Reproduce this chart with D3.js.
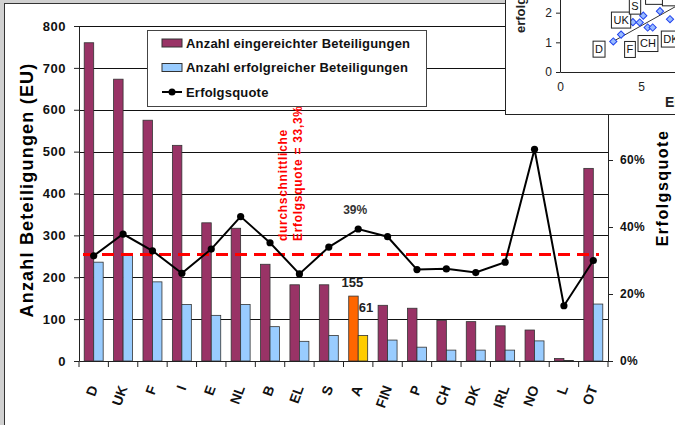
<!DOCTYPE html>
<html>
<head>
<meta charset="utf-8">
<script src="https://cdn.jsdelivr.net/npm/d3@7"></script>
<style>
	body { margin: 0; background: #d0d0d0; }
	svg { display: block; font-family: "Liberation Sans", Arial, sans-serif; }
</style>
</head>
<body>
<script>
const cats = ["D", "UK", "F", "I", "E", "NL", "B", "EL", "S", "A", "FIN", "P", "CH", "DK", "IRL", "NO", "L", "OT"];
const submitted = [760, 673, 575, 515, 330, 317, 231, 182, 182, 155, 133, 126, 97, 94, 84, 74, 6, 460];
const successful = [236, 257, 189, 135, 109, 135, 82, 47, 61, 61, 50, 33, 26, 26, 26, 48, 1, 136];
const rate = [31.4, 37.9, 32.9, 26.2, 33.4, 43.1, 35.3, 26.0, 34.0, 39.4, 37.1, 27.3, 27.5, 26.4, 29.5, 63.2, 16.5, 30.0];
const leftTicks = [0, 100, 200, 300, 400, 500, 600, 700, 800];
// 80% and 100% sit under the inset, only these show
const rightTicks = [0, 20, 40, 60];
const avgLine = 31.8;
const avgText = ["durchschnittliche", "Erfolgsquote = 33,3%"];
const highlight = "A";
const legendItems = ["Anzahl eingereichter Beteiligungen", "Anzahl erfolgreicher Beteiligungen", "Erfolgsquote"];

// small scatter chart pasted over the top right corner
const insetX = [3.29, 3.77, 4.5, 4.92, 5.14, 5.41, 5.72, 6.17, 6.79];
const insetY = [1.03, 1.26, 1.68, 1.67, 1.9, 1.5, 1.5, 2.05, 1.78];
const insetLabels = ["D", "UK", "F", "CH", "S", "DK", "", ""];
const insetLabelX = [2.41, 3.77, 4.32, 5.43, 4.63, 6.85, 5.56, 6.6];
const insetLabelY = [0.77, 1.75, 0.76, 0.96, 2.22, 1.11, 2.55, 2.5];
const insetTicksY = [0, 1, 2];
const insetTicksX = [0, 5];
const regSlope = 0.305, regIntercept = 0.03;

const w = 675;
const h = 425;

const svg = d3.select("body")
	.append("svg")
	.attr("width", w)
	.attr("height", h);

svg.append("rect")
	.attr("x", 4.5).attr("y", 3.5)
	.attr("width", w + 10).attr("height", h + 10)
	.attr("fill", "#fff")
	.attr("stroke", "#333");

const x = d3.scaleBand().domain(cats).range([79, 608]);
const sub = d3.scaleBand().domain(["s", "e"]).range([0, x.bandwidth()]).paddingOuter(0.55);
const y = d3.scaleLinear().domain([0, 800]).range([361, 26]);
const yr = d3.scaleLinear().domain([0, 100]).range([361, 26]);

// gridlines
svg.selectAll("line.grid")
	.data(leftTicks.slice(1))
	.enter()
	.append("line")
	.attr("class", "grid")
	.attr("x1", 79).attr("x2", 608)
	.attr("y1", d => Math.round(y(d)) + 0.5)
	.attr("y2", d => Math.round(y(d)) + 0.5)
	.attr("stroke", "#111");

// bars
const groups = svg.selectAll("g.cat")
	.data(cats)
	.enter()
	.append("g")
	.attr("transform", d => `translate(${x(d)},0)`);

groups.append("rect")
	.attr("x", sub("s"))
	.attr("width", sub.bandwidth())
	.attr("y", (d, i) => y(submitted[i]))
	.attr("height", (d, i) => y(0) - y(submitted[i]))
	.attr("fill", d => d === highlight ? "#ff6600" : "#993366")
	.attr("stroke", "#333").attr("stroke-width", 0.8);

groups.append("rect")
	.attr("x", sub("e"))
	.attr("width", sub.bandwidth())
	.attr("y", (d, i) => y(successful[i]))
	.attr("height", (d, i) => y(0) - y(successful[i]))
	.attr("fill", d => d === highlight ? "#ffcc00" : "#99ccff")
	.attr("stroke", "#333").attr("stroke-width", 0.8);

// axes
const axL = svg.append("g")
	.attr("transform", "translate(79,0)")
	.call(d3.axisLeft(y).tickValues(leftTicks).tickSize(5).tickSizeOuter(0).tickPadding(8));

const axR = svg.append("g")
	.attr("transform", "translate(608,0)")
	.call(d3.axisRight(yr).tickValues(rightTicks).tickFormat(d => d + "%").tickSize(5).tickSizeOuter(0).tickPadding(7));

const axB = svg.append("g")
	.attr("transform", "translate(0,361)")
	.call(d3.axisBottom(x).tickSize(0).tickSizeOuter(0));

svg.selectAll("line.xtick")
	.data(cats.map(c => x(c)).concat([608]))
	.enter()
	.append("line")
	.attr("x1", d => d).attr("x2", d => d)
	.attr("y1", 361).attr("y2", 367)
	.attr("stroke", "#222");

[axL, axR, axB].forEach(a => {
	a.selectAll("path, line").attr("stroke", "#222");
	a.selectAll("text").attr("fill", "#111").attr("font-weight", "bold")
		.attr("font-family", "Liberation Sans, Arial, sans-serif");
});
axL.selectAll("text").attr("font-size", 13).attr("letter-spacing", 0.5);
axR.selectAll("text").attr("font-size", 12).attr("letter-spacing", 0.3);
axB.selectAll("text")
	.attr("font-size", 14)
	.attr("x", 0).attr("y", 0).attr("dy", "0.35em")
	.attr("text-anchor", "end")
	.attr("transform", "translate(0,25) rotate(-70)");

// average line and note
svg.append("line")
	.attr("x1", 83).attr("x2", 599)
	.attr("y1", yr(avgLine)).attr("y2", yr(avgLine))
	.attr("stroke", "#ff0000")
	.attr("stroke-width", 3)
	.attr("stroke-dasharray", "12,7");

svg.selectAll("text.avg")
	.data(avgText)
	.enter()
	.append("text")
	.attr("class", "avg")
	.attr("transform", (d, i) => `translate(${287 + i * 15},241) rotate(-90)`)
	.attr("fill", "#ff0000")
	.attr("font-size", 12)
	.attr("font-weight", "bold")
	.attr("letter-spacing", 0.7)
	.text(d => d);

// success rate line
const cx = (d, i) => x(cats[i]) + x.bandwidth() / 2;
svg.append("path")
	.datum(rate)
	.attr("d", d3.line().x(cx).y(d => yr(d)))
	.attr("fill", "none")
	.attr("stroke", "#000")
	.attr("stroke-width", 2);

svg.selectAll("circle.pt")
	.data(rate)
	.enter()
	.append("circle")
	.attr("cx", cx)
	.attr("cy", d => yr(d))
	.attr("r", 3.6)
	.attr("fill", "#000");

// value labels for A
const ai = cats.indexOf(highlight);
svg.append("text")
	.attr("x", x(highlight) + sub("s") + sub.bandwidth() / 2 - 1)
	.attr("y", y(submitted[ai]) - 9)
	.attr("text-anchor", "middle")
	.attr("font-size", 13).attr("font-weight", "bold").attr("fill", "#222")
	.text(submitted[ai]);
svg.append("text")
	.attr("x", x(highlight) + sub("e") + sub.bandwidth() / 2 + 3)
	.attr("y", y(successful[ai]) - 23)
	.attr("text-anchor", "middle")
	.attr("font-size", 13).attr("font-weight", "bold").attr("fill", "#222")
	.text(successful[ai]);
svg.append("text")
	.attr("x", x(highlight) + x.bandwidth() / 2 - 3)
	.attr("y", yr(rate[ai]) - 15)
	.attr("text-anchor", "middle")
	.attr("font-size", 12).attr("font-weight", "bold").attr("fill", "#333")
	.text(Math.round(rate[ai]) + "%");

// axis titles
svg.append("text")
	.attr("transform", "translate(33,190) rotate(-90)")
	.attr("text-anchor", "middle")
	.attr("font-size", 18).attr("font-weight", "bold").attr("letter-spacing", 1.2)
	.text("Anzahl Beteiligungen (EU)");
svg.append("text")
	.attr("transform", "translate(668,188) rotate(-90)")
	.attr("text-anchor", "middle")
	.attr("font-size", 16).attr("font-weight", "bold").attr("letter-spacing", 1.5)
	.text("Erfolgsquote");

// legend
const leg = svg.append("g");
leg.append("rect")
	.attr("x", 147.5).attr("y", 30.5)
	.attr("width", 279).attr("height", 76)
	.attr("fill", "#fff").attr("stroke", "#444");
const li = leg.selectAll("g")
	.data(legendItems)
	.enter()
	.append("g")
	.attr("transform", (d, i) => `translate(162,${43 + i * 24.5})`);
li.filter((d, i) => i < 2)
	.append("rect")
	.attr("x", 0).attr("y", -4)
	.attr("width", 20).attr("height", 8)
	.attr("fill", (d, i) => i === 0 ? "#993366" : "#99ccff")
	.attr("stroke", "#333");
li.filter((d, i) => i === 2)
	.call(g => {
		g.append("line").attr("x1", 0).attr("x2", 20).attr("stroke", "#000").attr("stroke-width", 2);
		g.append("circle").attr("cx", 10).attr("r", 3.5).attr("fill", "#000");
	});
li.append("text")
	.attr("x", 24).attr("dy", "0.35em")
	.attr("font-size", 13).attr("font-weight", "bold").attr("letter-spacing", 0.2)
	.attr("fill", "#111")
	.text(d => d);

// inset scatter
const inset = svg.append("g");
svg.append("clipPath").attr("id", "insetClip")
	.append("rect").attr("x", 505).attr("y", 0).attr("width", 170).attr("height", 114);
inset.append("rect")
	.attr("x", 505.5).attr("y", -2)
	.attr("width", 180).attr("height", 116.5)
	.attr("fill", "#fff").attr("stroke", "#222");
const ig = inset.append("g").attr("clip-path", "url(#insetClip)");
const ix = d3.scaleLinear().domain([0, 10]).range([560, 722]);
const iy = d3.scaleLinear().domain([0, 3]).range([72, -17]);

ig.append("g")
	.attr("transform", "translate(560,0)")
	.call(d3.axisLeft(iy).tickValues(insetTicksY).tickFormat(d3.format("d")).tickSize(4).tickSizeOuter(0).tickPadding(4))
	.call(g => g.selectAll("text").attr("font-size", 12).attr("fill", "#222"));
ig.append("g")
	.attr("transform", "translate(0,72)")
	.call(d3.axisBottom(ix).tickValues(insetTicksX).tickFormat(d3.format("d")).tickSize(0).tickSizeOuter(0).tickPadding(10))
	.call(g => g.selectAll("text").attr("font-size", 12).attr("fill", "#222"));
ig.selectAll("path, line").attr("stroke", "#222");

ig.append("line")
	.attr("x1", ix(3.2)).attr("x2", ix(7.6))
	.attr("y1", iy(regIntercept + regSlope * 3.2))
	.attr("y2", iy(regIntercept + regSlope * 7.6))
	.attr("stroke", "#333");

ig.selectAll("path.pt")
	.data(insetX)
	.enter()
	.append("path")
	.attr("d", d3.symbol(d3.symbolSquare, 26))
	.attr("transform", (d, i) => `translate(${ix(d)},${iy(insetY[i])}) rotate(45)`)
	.attr("fill", "#99bbff")
	.attr("stroke", "#2244ee");

const lab = ig.selectAll("g.lab")
	.data(insetLabels)
	.enter()
	.append("g")
	.attr("transform", (d, i) => `translate(${ix(insetLabelX[i])},${iy(insetLabelY[i])})`);
lab.append("text")
	.attr("text-anchor", "middle").attr("dy", "0.35em")
	.attr("font-size", 11).attr("fill", "#111")
	.text(d => d);
lab.insert("rect", "text")
	.each(function(d) {
		const tw = this.parentNode.querySelector("text").getComputedTextLength();
		const bw = Math.max(tw + 4, 9);
		d3.select(this).attr("x", -bw / 2).attr("y", -8).attr("width", bw).attr("height", 16);
	})
	.attr("fill", "#fff").attr("stroke", "#222");
lab.filter(d => d === "").select("rect").attr("width", 20);

ig.append("text")
	.attr("transform", "translate(525,33) rotate(-90)")
	.attr("font-size", 13).attr("font-weight", "bold").attr("fill", "#222")
	.text("erfolgreiche Beteiligungen");
ig.append("text")
	.attr("x", 665).attr("y", 107)
	.attr("font-size", 14).attr("font-weight", "bold").attr("fill", "#222")
	.text("Eingereichte");
</script>
</body>
</html>
